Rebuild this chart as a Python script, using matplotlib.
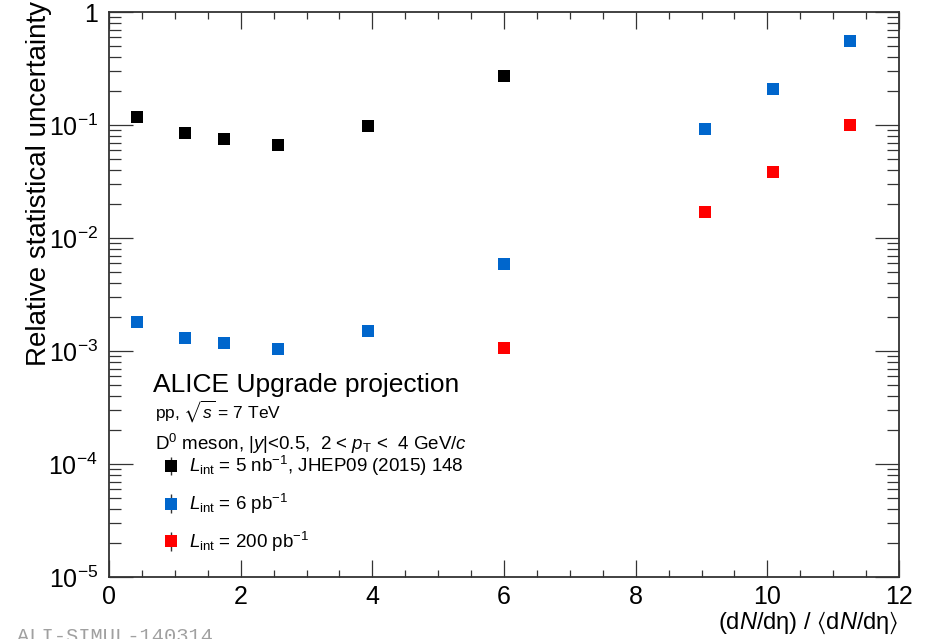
"""Relative statistical uncertainty of D0 yields vs. multiplicity (ALICE upgrade projection)."""

import matplotlib
import numpy as np

matplotlib.use("Agg")
import matplotlib.pyplot as plt
from matplotlib.ticker import FixedLocator, FuncFormatter, MultipleLocator

plt.rcParams["font.family"] = ["Liberation Sans", "DejaVu Sans"]
plt.rcParams["mathtext.fontset"] = "custom"
plt.rcParams["mathtext.rm"] = "Liberation Sans"
plt.rcParams["mathtext.it"] = "Liberation Sans:italic"
plt.rcParams["mathtext.bf"] = "Liberation Sans:bold"
plt.rcParams["mathtext.fallback"] = "stixsans"

# values
x_5nb = [0.43, 1.16, 1.74, 2.57, 3.93, 6.0]
y_5nb = [0.117, 0.0845, 0.0747, 0.067, 0.0974, 0.273]

x_6pb = [0.43, 1.16, 1.74, 2.57, 3.93, 6.0, 9.05, 10.09, 11.25]
y_6pb = [1.81e-3, 1.31e-3, 1.17e-3, 1.04e-3, 1.51e-3, 5.85e-3, 0.092, 0.208, 0.554]

x_200pb = [6.0, 9.05, 10.09, 11.25]
y_200pb = [1.07e-3, 0.0169, 0.0381, 0.101]

series_labels = [
    r"$L_{\mathrm{int}}$ = 5 nb$^{-1}$, JHEP09 (2015) 148",
    r"$L_{\mathrm{int}}$ = 6 pb$^{-1}$",
    r"$L_{\mathrm{int}}$ = 200 pb$^{-1}$",
]
series_colors = ["black", "#0066cc", "#ff0000"]

figure = plt.figure(figsize=(9.26, 6.39), dpi=100)
axis = figure.add_axes([109 / 926, 1 - 577 / 639, 790 / 926, 565 / 639])

handles = []
for x_values, y_values, color in zip(
    (x_5nb, x_6pb, x_200pb),
    (y_5nb, y_6pb, y_200pb),
    series_colors,
):
    container = axis.errorbar(
        x_values,
        y_values,
        yerr=np.zeros(len(y_values)),
        fmt="s",
        markersize=8,
        color=color,
        ecolor="#333333",
        elinewidth=1.0,
        markeredgewidth=0,
    )
    handles.append(container)

axis.set_yscale("log")
axis.set_xlim(0, 12)
axis.set_ylim(1e-5, 1)

axis.xaxis.set_major_locator(MultipleLocator(2))
axis.xaxis.set_minor_locator(MultipleLocator(0.5))
axis.yaxis.set_major_locator(FixedLocator([1e-5, 1e-4, 1e-3, 1e-2, 1e-1, 1]))
axis.yaxis.set_minor_locator(
    FixedLocator([m * 10.0**e for e in range(-5, 0) for m in range(2, 10)])
)
axis.yaxis.set_major_formatter(
    FuncFormatter(
        lambda v, _: "1" if v == 1 else rf"$10^{{{int(round(np.log10(v)))}}}$"
    )
)

axis.tick_params(
    which="both", direction="in", top=True, right=True, width=0.9,
    color="#333333", labelsize=18,
)
axis.tick_params(axis="x", which="major", length=12, pad=6)
axis.tick_params(axis="x", which="minor", length=5)
axis.tick_params(axis="y", which="major", length=17, pad=8)
axis.tick_params(axis="y", which="minor", length=8.5)
for spine in axis.spines.values():
    spine.set_linewidth(1.3)
    spine.set_color("#333333")

axis.set_xlabel(
    "(d$\\mathit{N}$/dη) / $\u27e8$d$\\mathit{N}$/dη$\u27e9$",
    fontsize=17,
    loc="right",
)
axis.xaxis.label.set_va("baseline")
axis.xaxis.set_label_coords(1.0, -0.091)
axis.set_ylabel("Relative statistical uncertainty", fontsize=20, loc="top")
axis.yaxis.set_label_coords(-0.072, 1.019)

axis.text(0.0557, 0.327, "ALICE Upgrade projection", fontsize=19,
          transform=axis.transAxes, va="baseline")
axis.text(0.0582, 0.283, r"pp, $\sqrt{s}$ = 7 TeV", fontsize=12.5,
          transform=axis.transAxes, va="baseline")
axis.text(0.0582, 0.225,
          r"D$^{0}$ meson, |$y$|<0.5,  2 < $p_{\mathrm{T}}$ <  4 GeV/$c$",
          fontsize=13.5, transform=axis.transAxes, va="baseline")

axis.legend(
    handles,
    series_labels,
    loc="upper left",
    bbox_to_anchor=(0.069, 0.217),
    frameon=False,
    fontsize=13.5,
    handlelength=0.8,
    handletextpad=0.55,
    labelspacing=0.72,
    borderpad=0,
    borderaxespad=0,
)

figure.text(17 / 926, 1 - 627 / 639, "ALI-SIMUL-140314", va="top",
            family="Liberation Mono", fontsize=14.7, color="#a0a0a0")

figure.savefig("out.png", dpi=100)
plt.close(figure)
